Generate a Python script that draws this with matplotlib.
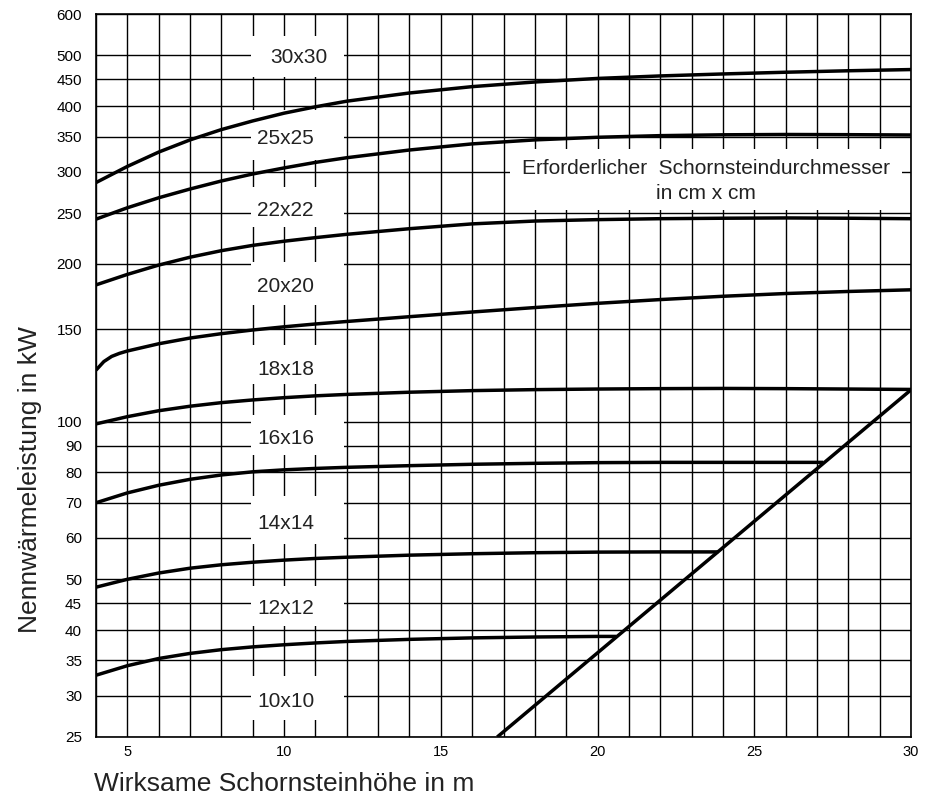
import matplotlib
matplotlib.use('Agg')
import matplotlib.pyplot as plt
from matplotlib.patches import Rectangle
from matplotlib.ticker import MultipleLocator, NullLocator, NullFormatter

plt.rcParams['font.family'] = ['Liberation Sans', 'DejaVu Sans']

# Wirksame Schornsteinhöhe (m) und Nennwärmeleistung (kW) je Querschnitt
h_long = [4, 5, 6, 7, 8, 9, 10, 11, 12, 14, 16, 18, 20, 22, 24, 26, 28, 30]
p_30 = [286, 307, 327, 345, 361, 375, 388, 399, 409, 424, 436, 445, 452, 457, 461, 464.5, 467.5, 470]
p_25 = [243.5, 256, 267.5, 278, 288, 297, 305, 312.5, 319, 330, 339, 345, 349, 351.5, 352.8, 353.3, 353, 352.5]
p_22 = [182.4, 191, 199, 206, 212, 217, 221, 224.5, 227.8, 233.5, 238.5, 241.5, 243, 244, 244.5, 244.8, 244.5, 244]
p_18 = [99, 102.2, 104.9, 107, 108.7, 110, 111.1, 112, 112.7, 113.8, 114.6, 115.1, 115.4, 115.6, 115.7, 115.6, 115.4, 115.2]

h_20 = [4, 4.25, 4.5, 4.75, 5, 6, 7, 8, 9, 10, 11, 12, 14, 16, 18, 20, 22, 24, 26, 28, 30]
p_20 = [125.4, 130.2, 133.2, 135, 136.4, 140.8, 144.4, 147.2, 149.6, 151.7, 153.6, 155.3, 158.6,
        161.9, 165.1, 168.2, 171, 173.5, 175.6, 177.2, 178.5]

h_16 = [4, 5, 6, 7, 8, 9, 10, 11, 12, 14, 16, 18, 20, 22, 24, 26, 27.2]
p_16 = [70, 73.1, 75.6, 77.6, 79.1, 80.2, 80.9, 81.4, 81.8, 82.4, 82.9, 83.25, 83.5, 83.6, 83.6, 83.6, 83.6]

h_14 = [4, 5, 6, 7, 8, 9, 10, 11, 12, 14, 16, 18, 20, 22, 23.85]
p_14 = [48.3, 50.0, 51.4, 52.5, 53.3, 53.9, 54.4, 54.8, 55.1, 55.6, 55.95, 56.2, 56.35, 56.4, 56.4]

h_12 = [4, 5, 6, 7, 8, 9, 10, 11, 12, 14, 16, 18, 20, 20.6]
p_12 = [32.8, 34.2, 35.3, 36.1, 36.7, 37.15, 37.5, 37.8, 38.05, 38.4, 38.65, 38.8, 38.9, 38.9]

# Begrenzungslinie
h_grenze = [16.8, 30]
p_grenze = [25, 115]

# Beschriftungen der Querschnitte
labels = ['30x30', '25x25', '22x22', '20x20', '18x18', '16x16', '14x14', '12x12', '10x10']
label_y = [495, 347, 253, 181, 126, 93, 64, 43.9, 29.2]
box_lo = [455, 316, 235, 167, 118, 86.5, 58.5, 40.8, 26.9]
box_hi = [545, 393, 280, 202, 140, 103, 72, 48.5, 32.7]

y_ticks = [25, 30, 35, 40, 45, 50, 60, 70, 80, 90, 100, 150, 200, 250, 300, 350, 400, 450, 500, 600]
x_ticks = [5, 10, 15, 20, 25, 30]

fig = plt.figure(figsize=(9.26, 8.02), dpi=100)
ax = fig.add_axes([96 / 926, 65 / 802, 815 / 926, 723 / 802])

ax.set_yscale('log')
ax.set_xlim(4, 30)
ax.set_ylim(25, 600)

ax.set_yticks(y_ticks)
ax.set_yticklabels([str(v) for v in y_ticks])
ax.yaxis.set_minor_locator(NullLocator())
ax.yaxis.set_minor_formatter(NullFormatter())
ax.set_xticks(x_ticks)
ax.set_xticklabels([str(v) for v in x_ticks])
ax.xaxis.set_minor_locator(MultipleLocator(1))

ax.tick_params(axis='both', which='both', length=0)
ax.tick_params(axis='y', pad=10, labelsize=11)
ax.tick_params(axis='x', pad=5.5, labelsize=10.5)

ax.set_axisbelow(True)
ax.grid(True, which='both', axis='x', color='black', linewidth=1.0)
ax.grid(True, which='major', axis='y', color='black', linewidth=1.0)
for s in ax.spines.values():
    s.set_linewidth(1.2)
    s.set_color('black')

kurve = dict(color='black', linewidth=2.5, solid_capstyle='butt', solid_joinstyle='round', zorder=3)
ax.plot(h_long, p_30, **kurve)
ax.plot(h_long, p_25, **kurve)
ax.plot(h_long, p_22, **kurve)
ax.plot(h_20, p_20, **kurve)
ax.plot(h_long, p_18, **kurve)
ax.plot(h_16, p_16, **kurve)
ax.plot(h_14, p_14, **kurve)
ax.plot(h_12, p_12, **kurve)
ax.plot(h_grenze, p_grenze, **kurve)

# weisse Felder hinter den Beschriftungen
for i, lab in enumerate(labels):
    ax.add_patch(Rectangle((8.95, box_lo[i]), 2.95, box_hi[i] - box_lo[i],
                           facecolor='white', edgecolor='none', zorder=1.5))
    x0 = 9.55 if lab == '30x30' else 9.15
    ax.text(x0, label_y[i], lab, ha='left', va='center', fontsize=15,
            color='#222222', zorder=4)

ax.add_patch(Rectangle((17.2, 253), 12.5, 332 - 253, facecolor='white',
                       edgecolor='none', zorder=1.5))
ax.text(23.47, 304, 'Erforderlicher  Schornsteindurchmesser', ha='center', va='center',
        fontsize=15, color='#222222', zorder=4)
ax.text(23.47, 273, 'in cm x cm', ha='center', va='center', fontsize=15,
        color='#222222', zorder=4)

fig.text(94 / 926, 1 - 784 / 802, 'Wirksame Schornsteinhöhe in m', ha='left', va='center',
         fontsize=19, color='#222222')
fig.text(30 / 926, 1 - 480 / 802, 'Nennwärmeleistung in kW', ha='center', va='center',
         rotation=90, fontsize=19, color='#222222')

fig.savefig('out.png', dpi=100)
